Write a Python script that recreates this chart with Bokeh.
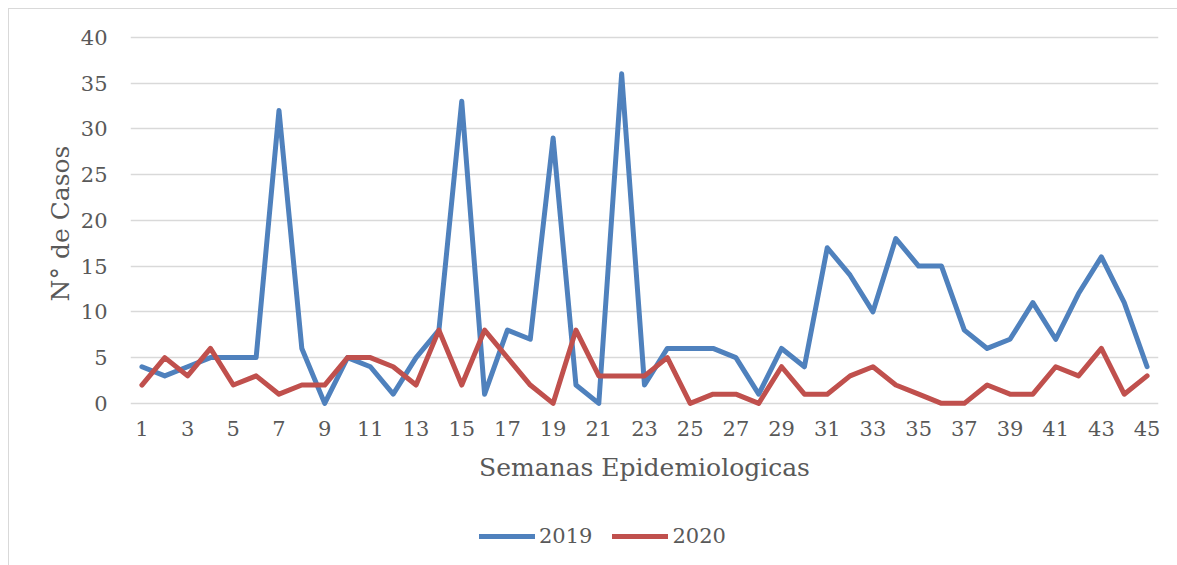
from bokeh.plotting import figure
from bokeh.models import FixedTicker, Legend, LegendItem, Range1d
from bokeh.layouts import column
from bokeh.embed import file_html
from bokeh.resources import INLINE

weeks = list(range(1, 46))
cases_2019 = [4, 3, 4, 5, 5, 5, 32, 6, 0, 5, 4, 1, 5, 8, 33, 1, 8, 7, 29, 2, 0, 36, 2,
              6, 6, 6, 5, 1, 6, 4, 17, 14, 10, 18, 15, 15, 8, 6, 7, 11, 7, 12, 16, 11, 4]
cases_2020 = [2, 5, 3, 6, 2, 3, 1, 2, 2, 5, 5, 4, 2, 8, 2, 8, 5, 2, 0, 8, 3, 3, 3,
              5, 0, 1, 1, 0, 4, 1, 1, 3, 4, 2, 1, 0, 0, 2, 1, 1, 4, 3, 6, 1, 3]
series_names = ["2019", "2020"]
x_ticks = list(range(1, 46, 2))
y_ticks = list(range(0, 41, 5))

FONT = "DejaVu Serif"
TXT = "#595959"
BLUE = "#4f81bd"
RED = "#c0504d"

p = figure(frame_width=1028, frame_height=378,
           min_border_left=121, min_border_right=19,
           min_border_top=25, min_border_bottom=100,
           x_range=Range1d(0.5, 45.5), y_range=Range1d(-1, 40.3),
           output_backend="svg", toolbar_location=None)
p.outline_line_color = None
p.background_fill_color = "white"
p.border_fill_color = "white"

p.xgrid.visible = False
p.ygrid.grid_line_color = "#d9d9d9"
p.ygrid.grid_line_width = 1.5
p.ygrid.ticker = FixedTicker(ticks=y_ticks)

p.line(weeks, cases_2019, line_color=BLUE, line_width=5,
       line_join="round", line_cap="round")
p.line(weeks, cases_2020, line_color=RED, line_width=5,
       line_join="round", line_cap="round")

for ax in (p.xaxis[0], p.yaxis[0]):
    ax.axis_line_color = None
    ax.major_tick_line_color = None
    ax.minor_tick_line_color = None
    ax.major_label_text_font = FONT
    ax.major_label_text_font_size = "21px"
    ax.major_label_text_color = TXT
    ax.axis_label_text_font = FONT
    ax.axis_label_text_font_size = "25px"
    ax.axis_label_text_color = TXT
    ax.axis_label_text_font_style = "normal"

p.xaxis.ticker = FixedTicker(ticks=x_ticks)
p.yaxis.ticker = FixedTicker(ticks=y_ticks)
p.xaxis.axis_label = "Semanas Epidemiologicas"
p.yaxis.axis_label = "N° de Casos"
p.xaxis.major_label_standoff = 2
p.xaxis.axis_label_standoff = 14
p.yaxis.major_label_standoff = 17
p.yaxis.axis_label_standoff = 3

# legend strip below the chart (same series, drawn outside its visible range)
p2 = figure(width=1168, height=53, min_border=0,
            x_range=Range1d(-100, -99), y_range=Range1d(-100, -99),
            output_backend="svg", toolbar_location=None)
p2.axis.visible = False
p2.grid.visible = False
p2.outline_line_color = None
p2.background_fill_color = "white"
p2.border_fill_color = "white"
r1 = p2.line(weeks, cases_2019, line_color=BLUE, line_width=5, line_cap="round")
r2 = p2.line(weeks, cases_2020, line_color=RED, line_width=5, line_cap="round")

legend = Legend(items=[LegendItem(label=series_names[0], renderers=[r1]),
                       LegendItem(label=series_names[1], renderers=[r2])],
                orientation="horizontal", location=(349, 14))
legend.background_fill_alpha = 0
legend.border_line_color = None
legend.label_text_font = FONT
legend.label_text_font_size = "21px"
legend.label_text_color = TXT
legend.glyph_width = 56
legend.glyph_height = 30
legend.label_height = 30
legend.label_standoff = 4
legend.spacing = 20
legend.padding = 0
legend.margin = 0
p2.add_layout(legend, "center")

layout = column(p, p2, spacing=0)
layout.styles = {"margin-left": "8px", "margin-top": "8px",
                 "border-top": "1px solid #d9d9d9", "border-left": "1px solid #d9d9d9"}

open("out.html", "w").write(file_html(layout, INLINE))
